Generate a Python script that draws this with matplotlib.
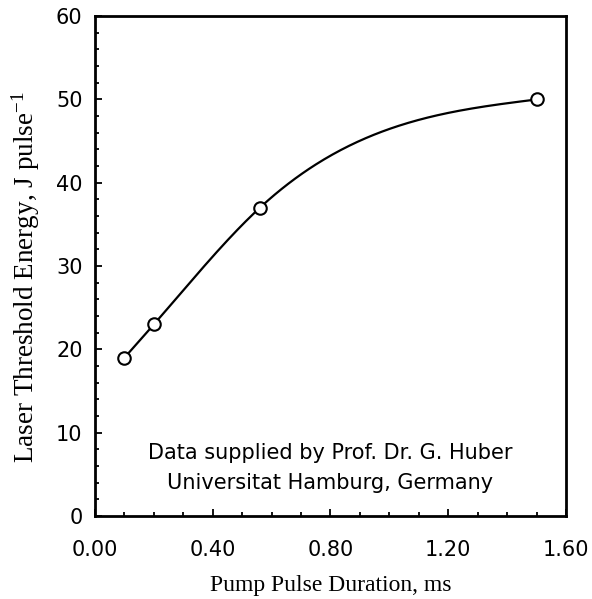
import numpy as np
import matplotlib
matplotlib.use("Agg")
import matplotlib.pyplot as plt
from matplotlib.ticker import MultipleLocator

plt.rcParams["mathtext.default"] = "regular"

# Data
duration_ms = [0.10, 0.20, 0.56, 1.50]
threshold_J = [19.0, 23.0, 37.0, 50.0]
x_ticks = [0.0, 0.4, 0.8, 1.2, 1.6]
x_tick_labels = ["0.00", "0.40", "0.80", "1.20", "1.60"]
y_ticks = [0, 10, 20, 30, 40, 50, 60]


def natural_spline(x, y, xs):
    x = np.asarray(x, float); y = np.asarray(y, float)
    n = len(x)
    h = np.diff(x)
    A = np.zeros((n, n)); b = np.zeros(n)
    A[0, 0] = 1; A[-1, -1] = 1
    for i in range(1, n - 1):
        A[i, i - 1] = h[i - 1]
        A[i, i] = 2 * (h[i - 1] + h[i])
        A[i, i + 1] = h[i]
        b[i] = 3 * ((y[i + 1] - y[i]) / h[i] - (y[i] - y[i - 1]) / h[i - 1])
    c = np.linalg.solve(A, b)
    out = np.empty_like(xs)
    for k, xv in enumerate(xs):
        i = min(max(np.searchsorted(x, xv) - 1, 0), n - 2)
        dx = xv - x[i]
        bi = (y[i + 1] - y[i]) / h[i] - h[i] * (2 * c[i] + c[i + 1]) / 3
        di = (c[i + 1] - c[i]) / (3 * h[i])
        out[k] = y[i] + bi * dx + c[i] * dx ** 2 + di * dx ** 3
    return out


sans = ["DejaVu Sans"]
serif = ["Liberation Serif", "DejaVu Serif"]

fig = plt.figure(figsize=(5.92, 5.99), dpi=100)
ax = fig.add_axes([0.1605, 0.1386, 0.7955, 0.8344])

xs = np.linspace(duration_ms[0], duration_ms[-1], 300)
ax.plot(xs, natural_spline(duration_ms, threshold_J, xs), color="black", lw=1.6)
ax.plot(duration_ms, threshold_J, "o", mfc="white", mec="black", ms=9, mew=1.5)

ax.set_xlim(0, 1.6)
ax.set_ylim(0, 60)
ax.set_xticks(x_ticks)
ax.set_xticklabels(x_tick_labels)
ax.set_yticks(y_ticks)
ax.xaxis.set_minor_locator(MultipleLocator(0.1))
ax.yaxis.set_minor_locator(MultipleLocator(2))
ax.tick_params(which="both", direction="in", top=False, right=False, width=1.3)
ax.tick_params(which="major", length=5)
ax.tick_params(which="minor", length=3)
ax.tick_params(axis="x", which="major", pad=17)
ax.tick_params(axis="y", which="major", pad=9)
for lab in ax.get_xticklabels() + ax.get_yticklabels():
    lab.set_family(sans)
    lab.set_fontsize(15)
for s in ax.spines.values():
    s.set_linewidth(2)

ax.set_xlabel("Pump Pulse Duration, ms", family=serif, fontsize=17, labelpad=11)
ax.set_ylabel("Laser Threshold Energy, J pulse$^{-1}$", family=serif, fontsize=19.5)
ax.yaxis.set_label_coords(-0.113, 0.478)

ax.text(0.5, 0.114, "Data supplied by Prof. Dr. G. Huber", transform=ax.transAxes,
        ha="center", va="baseline", family=sans, fontsize=15)
ax.text(0.5, 0.054, "Universitat Hamburg, Germany", transform=ax.transAxes,
        ha="center", va="baseline", family=sans, fontsize=15)

fig.savefig("out.png", dpi=100)
